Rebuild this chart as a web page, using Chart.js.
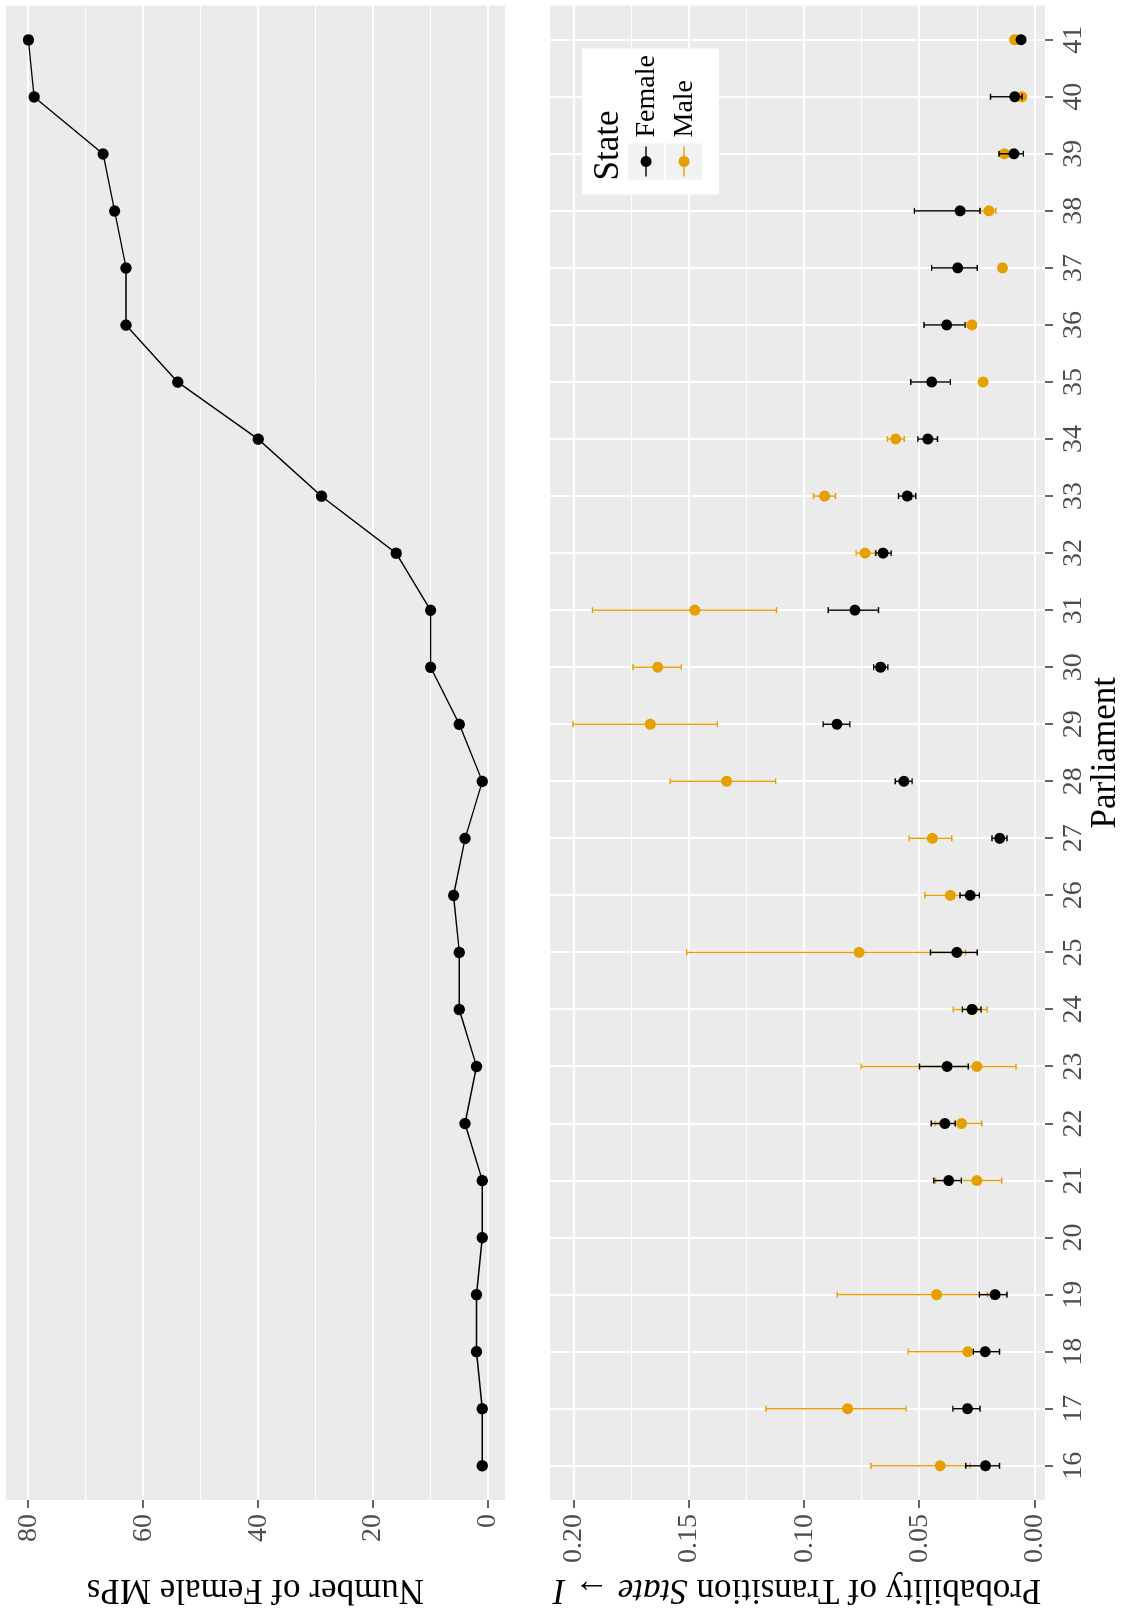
<!DOCTYPE html>
<html>
<head>
<meta charset="utf-8">
<script src="https://cdn.jsdelivr.net/npm/chart.js@4/dist/chart.umd.min.js"></script>
<style>
  html, body { margin: 0; padding: 0; background: #ffffff; overflow: hidden; }
  /* The figure is laid out in landscape and turned a quarter turn counter-clockwise */
  #page {
    position: absolute; left: 0; top: 0;
    width: 1608px; height: 1123px;
    transform-origin: 0 0;
    transform: translate(0, 1608px) rotate(-90deg);
    background: #ffffff;
  }
  #mpsChart { position: absolute; left: 0; top: 0; }
  #probChart { position: absolute; left: 0; top: 530px; }
</style>
</head>
<body>
<div id="page">
  <canvas id="mpsChart" width="1608" height="530"></canvas>
  <canvas id="probChart" width="1608" height="593"></canvas>
</div>
<script>
// ---- data ----
const parliaments = [16, 17, 18, 19, 20, 21, 22, 23, 24, 25, 26, 27, 28, 29, 30, 31, 32, 33, 34, 35, 36, 37, 38, 39, 40, 41];

const femaleMPs = [1, 1, 2, 2, 1, 1, 4, 2, 5, 5, 6, 4, 1, 5, 10, 10, 16, 29, 40, 54, 63, 63, 65, 67, 79, 80];

// probability of transition State -> I, with interval bounds (null = no estimate)
const femaleProb = [0.0214, 0.0292, 0.0215, 0.0172, null, 0.0373, 0.0390, 0.0380, 0.0272, 0.0338, 0.0280, 0.0152, 0.0568, 0.0858, 0.0669, 0.0780, 0.0658, 0.0553, 0.0464, 0.0447, 0.0382, 0.0334, 0.0324, 0.0090, 0.0087, 0.0059];
const femaleLow  = [0.0153, 0.0237, 0.0153, 0.0120, null, 0.0318, 0.0345, 0.0288, 0.0233, 0.0249, 0.0240, 0.0120, 0.0532, 0.0802, 0.0637, 0.0678, 0.0623, 0.0516, 0.0422, 0.0366, 0.0302, 0.0249, 0.0237, 0.0049, 0.0055, 0.0053];
const femaleHigh = [0.0299, 0.0355, 0.0266, 0.0240, null, 0.0438, 0.0449, 0.0500, 0.0314, 0.0452, 0.0324, 0.0185, 0.0605, 0.0918, 0.0699, 0.0896, 0.0689, 0.0591, 0.0507, 0.0538, 0.0480, 0.0447, 0.0522, 0.0155, 0.0192, 0.0066];

const maleProb = [0.0410, 0.0812, 0.0290, 0.0426, null, 0.0251, 0.0318, 0.0251, 0.0270, 0.0762, 0.0366, 0.0444, 0.1337, 0.1668, 0.1636, 0.1475, 0.0736, 0.0912, 0.0603, 0.0224, 0.0273, 0.0140, 0.0199, 0.0132, 0.0056, 0.0088];
const maleLow  = [0.0280, 0.0558, 0.0220, 0.0205, null, 0.0143, 0.0230, 0.0081, 0.0207, 0.0300, 0.0290, 0.0360, 0.1124, 0.1377, 0.1533, 0.1120, 0.0692, 0.0864, 0.0566, 0.0212, 0.0255, 0.0133, 0.0169, 0.0115, 0.0050, 0.0082];
const maleHigh = [0.0710, 0.1166, 0.0549, 0.0857, null, 0.0430, 0.0432, 0.0753, 0.0354, 0.1510, 0.0477, 0.0545, 0.1582, 0.2003, 0.1743, 0.1919, 0.0775, 0.0960, 0.0639, 0.0236, 0.0292, 0.0147, 0.0237, 0.0150, 0.0062, 0.0094];

// axis breaks: labelled ticks and all grid positions (labelled + minor)
const mpTickLabels = [0, 20, 40, 60, 80];
const mpGridValues = [0, 10, 20, 30, 40, 50, 60, 70, 80];
const probTickLabels = [0, 0.05, 0.10, 0.15, 0.20];
const probGridValues = [0, 0.025, 0.05, 0.075, 0.10, 0.125, 0.15, 0.175, 0.20];

// ---- styling ----
const FONT = "'Liberation Serif', 'DejaVu Serif', serif";
const PANEL = '#EBEBEB';
const TICK_TEXT = '#4D4D4D';
const TICK_MARK = '#333333';
const ORANGE = '#E69F00';
const AXIS_W = 108;          // room for y tick labels and title
const TICK_SIZE = 28;
const TITLE_SIZE = 35;

const near = (v, list) => list.some(t => Math.abs(t - v) < 1e-9);
const noScalePadding = s => { s.paddingTop = 0; s.paddingBottom = 0; s.paddingLeft = 0; s.paddingRight = 0; };

// grey panel behind the grid
const panelBackground = {
  id: 'panelBackground',
  beforeDraw(chart) {
    const { ctx, chartArea: a } = chart;
    ctx.save();
    ctx.fillStyle = PANEL;
    ctx.fillRect(a.left, a.top, a.right - a.left, a.bottom - a.top);
    ctx.restore();
  }
};

// y-axis title drawn from text runs so parts can be set in italics
const axisTitle = {
  id: 'axisTitle',
  afterDraw(chart, args, opts) {
    if (!opts || !opts.runs) return;
    const { ctx, chartArea: a } = chart;
    ctx.save();
    ctx.translate(opts.x, (a.top + a.bottom) / 2);
    ctx.rotate(-Math.PI / 2);
    ctx.fillStyle = '#000000';
    ctx.textBaseline = 'middle';
    const fontFor = r => (r.italic ? 'italic ' : '') + TITLE_SIZE + 'px ' + FONT;
    let total = 0;
    opts.runs.forEach(r => { ctx.font = fontFor(r); total += ctx.measureText(r.text).width; });
    let x = -total / 2;
    opts.runs.forEach(r => {
      ctx.font = fontFor(r);
      ctx.textAlign = 'left';
      ctx.fillText(r.text, x, 0);
      x += ctx.measureText(r.text).width;
    });
    ctx.restore();
  }
};

// interval whiskers, painted just before each dataset's points
const errorBars = {
  id: 'errorBars',
  beforeDatasetDraw(chart, args) {
    const ds = chart.data.datasets[args.index];
    if (!ds.errLow) return;
    const { ctx } = chart;
    const xs = chart.scales.x, ys = chart.scales.y;
    ctx.save();
    ctx.strokeStyle = ds.borderColor;
    ctx.lineWidth = 1.4;
    const cap = 3;
    parliaments.forEach((p, i) => {
      const lo = ds.errLow[i], hi = ds.errHigh[i];
      if (lo == null || hi == null) return;
      const x = xs.getPixelForValue(p);
      const y1 = ys.getPixelForValue(lo), y2 = ys.getPixelForValue(hi);
      ctx.beginPath();
      ctx.moveTo(x, y1); ctx.lineTo(x, y2);
      ctx.moveTo(x - cap, y1); ctx.lineTo(x + cap, y1);
      ctx.moveTo(x - cap, y2); ctx.lineTo(x + cap, y2);
      ctx.stroke();
    });
    ctx.restore();
  }
};

// key box in the upper corner of the probability panel
const stateLegend = {
  id: 'stateLegend',
  afterDraw(chart) {
    const { ctx, chartArea: a } = chart;
    const bx = a.right - 189, by = a.top + 32, bw = 146, bh = 137;
    ctx.save();
    ctx.fillStyle = '#FFFFFF';
    ctx.fillRect(bx, by, bw, bh);
    ctx.fillStyle = '#000000';
    ctx.font = TITLE_SIZE + 'px ' + FONT;
    ctx.textAlign = 'left';
    ctx.textBaseline = 'alphabetic';
    ctx.fillText('State', bx + 14, by + 36);
    const entries = [
      { label: 'Female', color: '#000000', top: by + 46 },
      { label: 'Male', color: ORANGE, top: by + 84 }
    ];
    entries.forEach(e => {
      const kx = bx + 15, ks = 36;
      ctx.fillStyle = '#F2F2F2';
      ctx.fillRect(kx, e.top, ks, ks);
      const cy = e.top + ks / 2;
      ctx.strokeStyle = e.color;
      ctx.lineWidth = 1.4;
      ctx.beginPath();
      ctx.moveTo(kx + 3, cy); ctx.lineTo(kx + ks - 3, cy);
      ctx.stroke();
      ctx.fillStyle = e.color;
      ctx.beginPath();
      ctx.arc(kx + ks / 2, cy, 5.5, 0, Math.PI * 2);
      ctx.fill();
      ctx.fillStyle = '#000000';
      ctx.font = '28px ' + FONT;
      ctx.textBaseline = 'middle';
      ctx.fillText(e.label, kx + ks + 6, cy + 1);
    });
    ctx.restore();
  }
};

function valueAxis(min, max, gridValues, labelValues, fmt) {
  return {
    type: 'linear', min, max,
    afterBuildTicks: s => { s.ticks = gridValues.map(v => ({ value: v })); },
    afterFit: s => { s.width = AXIS_W; noScalePadding(s); },
    ticks: {
      autoSkip: false,
      color: TICK_TEXT,
      font: { family: FONT, size: TICK_SIZE },
      padding: 6,
      callback: v => near(v, labelValues) ? fmt(v) : ''
    },
    grid: {
      color: '#FFFFFF',
      lineWidth: c => (c.tick && near(c.tick.value, labelValues)) ? 2 : 1,
      tickLength: 8,
      tickWidth: 1.5,
      tickColor: c => (c.tick && near(c.tick.value, labelValues)) ? TICK_MARK : 'rgba(0,0,0,0)'
    },
    border: { display: false }
  };
}

Chart.defaults.font.family = FONT;

new Chart(document.getElementById('mpsChart'), {
  type: 'scatter',
  data: {
    datasets: [{
      label: 'Female MPs',
      data: parliaments.map((p, i) => ({ x: p, y: femaleMPs[i] })),
      showLine: true,
      borderColor: '#000000',
      borderWidth: 1.4,
      backgroundColor: '#000000',
      pointRadius: 5.7,
      pointBorderWidth: 0,
      tension: 0
    }]
  },
  options: {
    responsive: false,
    animation: false,
    devicePixelRatio: 1,
    layout: { padding: { top: 5, right: 2, bottom: 25, left: 0 } },
    plugins: {
      legend: { display: false },
      tooltip: { enabled: false },
      axisTitle: { x: 19, runs: [{ text: 'Number of Female MPs' }] }
    },
    scales: {
      x: { type: 'linear', min: 15.4, max: 41.6, display: false },
      y: valueAxis(-2.95, 83.95, mpGridValues, mpTickLabels, v => String(v))
    }
  },
  plugins: [panelBackground, axisTitle]
});

new Chart(document.getElementById('probChart'), {
  type: 'scatter',
  data: {
    datasets: [
      {
        label: 'Female',
        data: parliaments.map((p, i) => ({ x: p, y: femaleProb[i] })).filter(d => d.y != null),
        errLow: femaleLow, errHigh: femaleHigh,
        borderColor: '#000000', backgroundColor: '#000000',
        pointRadius: 5.5, pointBorderWidth: 0
      },
      {
        label: 'Male',
        data: parliaments.map((p, i) => ({ x: p, y: maleProb[i] })).filter(d => d.y != null),
        errLow: maleLow, errHigh: maleHigh,
        borderColor: ORANGE, backgroundColor: ORANGE,
        pointRadius: 5.5, pointBorderWidth: 0
      }
    ]
  },
  options: {
    responsive: false,
    animation: false,
    devicePixelRatio: 1,
    layout: { padding: { top: 20, right: 2, bottom: 0, left: 0 } },
    plugins: {
      legend: { display: false },
      tooltip: { enabled: false },
      axisTitle: { x: 19, runs: [
        { text: 'Probability of Transition ' },
        { text: 'State', italic: true },
        { text: ' \u2192 ' },
        { text: 'I', italic: true }
      ] }
    },
    scales: {
      x: {
        type: 'linear', min: 15.4, max: 41.6,
        afterBuildTicks: s => { s.ticks = parliaments.map(v => ({ value: v })); },
        afterFit: s => { s.height = 78; noScalePadding(s); },
        ticks: {
          autoSkip: false, maxRotation: 0, minRotation: 0,
          color: TICK_TEXT,
          font: { family: FONT, size: TICK_SIZE },
          padding: 4,
          callback: v => String(v)
        },
        grid: { color: '#FFFFFF', lineWidth: 2, tickLength: 8, tickWidth: 1.5, tickColor: TICK_MARK },
        border: { display: false },
        title: {
          display: true, text: 'Parliament', color: '#000000',
          font: { family: FONT, size: TITLE_SIZE, lineHeight: 1.0 }, padding: { top: 0, bottom: 0 }
        }
      },
      y: valueAxis(-0.00447, 0.2103, probGridValues, probTickLabels, v => v.toFixed(2))
    }
  },
  plugins: [panelBackground, errorBars, axisTitle, stateLegend]
});
</script>
</body>
</html>
